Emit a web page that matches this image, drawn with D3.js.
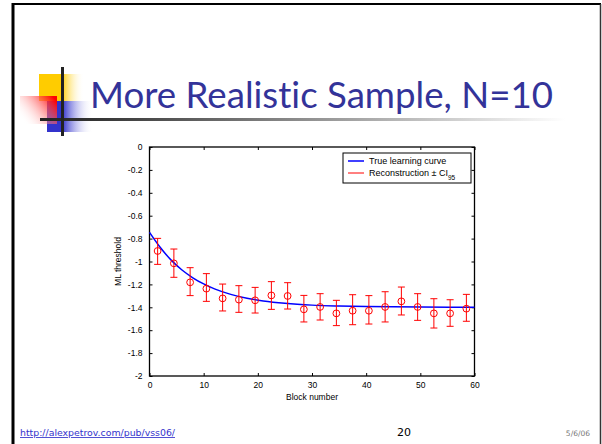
<!DOCTYPE html>
<html>
<head>
<meta charset="utf-8">
<script src="https://cdn.jsdelivr.net/npm/d3@7"></script>
<style>
html,body{margin:0;padding:0;background:#fff;}
svg{display:block;}
text{font-variant-ligatures:none;font-feature-settings:"liga" 0;}
</style>
</head>
<body>
<svg id="c" width="602" height="444"></svg>
<script>
// ---- data ----
const blocks = [1.5, 4.5, 7.5, 10.5, 13.5, 16.5, 19.5, 22.5, 25.5, 28.5, 31.5, 34.5, 37.5, 40.5, 43.5, 46.5, 49.5, 52.5, 55.5, 58.5];
const recon = [-0.908, -1.016, -1.182, -1.237, -1.322, -1.333, -1.339, -1.296, -1.301, -1.418, -1.397, -1.453, -1.430, -1.430, -1.397, -1.348, -1.397, -1.453, -1.453, -1.412];
const ciHigh = [-0.798, -0.891, -1.054, -1.106, -1.197, -1.211, -1.226, -1.176, -1.185, -1.296, -1.281, -1.339, -1.290, -1.298, -1.264, -1.223, -1.281, -1.325, -1.334, -1.287];
const ciLow = [-1.025, -1.138, -1.298, -1.348, -1.432, -1.444, -1.450, -1.418, -1.415, -1.528, -1.511, -1.560, -1.552, -1.546, -1.528, -1.467, -1.514, -1.581, -1.566, -1.522];
const curveX = [0, 2, 4, 6, 8, 10, 12, 15, 18, 21, 25, 30, 35, 40, 50, 60];
const curveY = [-0.745, -0.878, -0.988, -1.074, -1.142, -1.196, -1.239, -1.287, -1.321, -1.344, -1.365, -1.381, -1.389, -1.394, -1.398, -1.40];
const xTicks = [0, 10, 20, 30, 40, 50, 60];
const yTicks = [0, -0.2, -0.4, -0.6, -0.8, -1, -1.2, -1.4, -1.6, -1.8, -2];
const titleText = "More Realistic Sample, N=10";
const legendLabels = ["True learning curve", "Reconstruction \u00b1 CI"];

const svg = d3.select("#c");
svg.append("rect").attr("width", 602).attr("height", 444).attr("fill", "#fff");

// ---- slide decoration ----
const defs = svg.append("defs");
function grad(id, x1, y1, x2, y2, stops) {
  const g = defs.append("linearGradient").attr("id", id)
    .attr("x1", x1).attr("y1", y1).attr("x2", x2).attr("y2", y2);
  stops.forEach(s => g.append("stop").attr("offset", s[0]).attr("stop-color", s[1]).attr("stop-opacity", s[2] == null ? 1 : s[2]));
}
grad("gy", 0, 0, 1, 0, [[0, "#ffcc00"], [0.5, "#ffcc00"], [1, "#ffffff", 0]]);
grad("gb", 0, 0, 1, 0, [[0, "#3333cc"], [0.33, "#3333cc"], [1, "#ffffff", 0]]);
grad("gr", 0, 0.8, 1, 0.2, [[0, "#ffffff", 0], [1, "#ff0000"]]);
grad("gl", 0, 0, 1, 0, [[0, "#222"], [0.1, "#333"], [1, "#ffffff"]]);

// frame
svg.append("line").attr("x1", 12).attr("y1", 4).attr("x2", 601).attr("y2", 4).attr("stroke", "#000").attr("stroke-width", 2);
svg.append("line").attr("x1", 13).attr("y1", 3).attr("x2", 13).attr("y2", 444).attr("stroke", "#000").attr("stroke-width", 3);
svg.append("line").attr("x1", 600.5).attr("y1", 4).attr("x2", 600.5).attr("y2", 444).attr("stroke", "#333").attr("stroke-width", 1.5);

// icon
svg.append("rect").attr("x", 39).attr("y", 74).attr("width", 45).attr("height", 27).attr("fill", "url(#gy)");
svg.append("rect").attr("x", 47).attr("y", 101).attr("width", 46).attr("height", 31).attr("fill", "url(#gb)");
svg.append("rect").attr("x", 20).attr("y", 96).attr("width", 37).attr("height", 28).attr("fill", "url(#gr)");
svg.append("rect").attr("x", 40).attr("y", 118).attr("width", 525).attr("height", 3).attr("fill", "url(#gl)");
svg.append("rect").attr("x", 61).attr("y", 67).attr("width", 3).attr("height", 69).attr("fill", "#222");

svg.append("text").attr("x", 90).attr("y", 108)
  .attr("font-family", "Lato, 'DejaVu Sans', sans-serif").attr("font-size", 37)
  .attr("fill", "#333399")
  .attr("textLength", 463).attr("lengthAdjust", "spacingAndGlyphs")
  .text(titleText);

// ---- chart ----
const x = d3.scaleLinear().domain([0, 60]).range([149.5, 474.5]);
const y = d3.scaleLinear().domain([-2, 0]).range([376, 147]);
const font = "'Liberation Sans', Arial, sans-serif";

const g = svg.append("g");

// box
g.append("rect").attr("x", x(0)).attr("y", y(0)).attr("width", x(60) - x(0)).attr("height", y(-2) - y(0))
  .attr("fill", "none").attr("stroke", "#000").attr("stroke-width", 1.3);

const fmt = d => d === 0 ? "0" : String(+d.toFixed(1));

// axes (ticks inside)
const ax = g.append("g").attr("transform", `translate(0,${y(-2)})`)
  .call(d3.axisBottom(x).tickValues(xTicks).tickSize(-3).tickPadding(6).tickFormat(d => d));
const axTop = g.append("g").attr("transform", `translate(0,${y(0)})`)
  .call(d3.axisTop(x).tickValues(xTicks).tickSize(-3).tickFormat(""));
const ay = g.append("g").attr("transform", `translate(${x(0)},0)`)
  .call(d3.axisLeft(y).tickValues(yTicks).tickSize(-3).tickPadding(7).tickFormat(fmt));
const ayR = g.append("g").attr("transform", `translate(${x(60)},0)`)
  .call(d3.axisRight(y).tickValues(yTicks).tickSize(-3).tickFormat(""));
[ax, axTop, ay, ayR].forEach(a => {
  a.select(".domain").remove();
  a.selectAll("line").attr("stroke", "#000").attr("stroke-width", 1);
  a.selectAll("text").attr("font-family", font).attr("font-size", 8.5).attr("fill", "#000");
});

// axis labels
g.append("text").attr("x", (x(0) + x(60)) / 2).attr("y", 400).attr("text-anchor", "middle")
  .attr("font-family", font).attr("font-size", 8.5).text("Block number");
g.append("text").attr("transform", `translate(121,${(y(0) + y(-2)) / 2}) rotate(-90)`).attr("text-anchor", "middle")
  .attr("font-family", font).attr("font-size", 8.5).text("ML threshold");

// true curve
const line = d3.line().x(d => x(d[0])).y(d => y(d[1])).curve(d3.curveMonotoneX);
g.append("path").datum(curveX.map((v, i) => [v, curveY[i]]))
  .attr("d", line).attr("fill", "none").attr("stroke", "#0000ff").attr("stroke-width", 1.5);

// reconstruction with error bars
const red = "#ff0000";
const eb = g.append("g").attr("stroke", red).attr("stroke-width", 1).attr("fill", "none");
blocks.forEach((b, i) => {
  const cx = x(b);
  eb.append("line").attr("x1", cx).attr("x2", cx).attr("y1", y(ciHigh[i])).attr("y2", y(ciLow[i]));
  eb.append("line").attr("x1", cx - 3.5).attr("x2", cx + 3.5).attr("y1", y(ciHigh[i])).attr("y2", y(ciHigh[i]));
  eb.append("line").attr("x1", cx - 3.5).attr("x2", cx + 3.5).attr("y1", y(ciLow[i])).attr("y2", y(ciLow[i]));
  eb.append("circle").attr("cx", cx).attr("cy", y(recon[i])).attr("r", 3.4);
});

// legend
const lg = g.append("g");
lg.append("rect").attr("x", 343).attr("y", 153).attr("width", 128).attr("height", 30)
  .attr("fill", "#fff").attr("stroke", "#000").attr("stroke-width", 1);
lg.append("line").attr("x1", 348).attr("x2", 364).attr("y1", 161).attr("y2", 161).attr("stroke", "#0000ff").attr("stroke-width", 1.5);
lg.append("line").attr("x1", 348).attr("x2", 364).attr("y1", 173).attr("y2", 173).attr("stroke", red).attr("stroke-width", 1);
lg.append("text").attr("x", 369).attr("y", 164).attr("font-family", font).attr("font-size", 9).text(legendLabels[0]);
const t2 = lg.append("text").attr("x", 369).attr("y", 176).attr("font-family", font).attr("font-size", 9);
t2.append("tspan").text(legendLabels[1]);
t2.append("tspan").attr("dy", 3.5).attr("font-size", 6.5).text("95");

// footer
svg.append("text").attr("x", 20).attr("y", 436).attr("font-family", "Verdana, 'DejaVu Sans', sans-serif")
  .attr("font-size", 8.5).attr("fill", "#3333cc").attr("text-decoration", "underline")
  .attr("textLength", 155).attr("lengthAdjust", "spacingAndGlyphs")
  .text("http://alexpetrov.com/pub/vss06/");
svg.append("text").attr("x", 404).attr("y", 436).attr("text-anchor", "middle").attr("font-family", "'DejaVu Sans', sans-serif")
  .attr("font-size", 11).attr("fill", "#000").text("20");
svg.append("text").attr("x", 590).attr("y", 436).attr("text-anchor", "end").attr("font-family", "'DejaVu Sans', sans-serif")
  .attr("font-size", 7.5).attr("fill", "#777").text("5/6/06");
</script>
</body>
</html>
